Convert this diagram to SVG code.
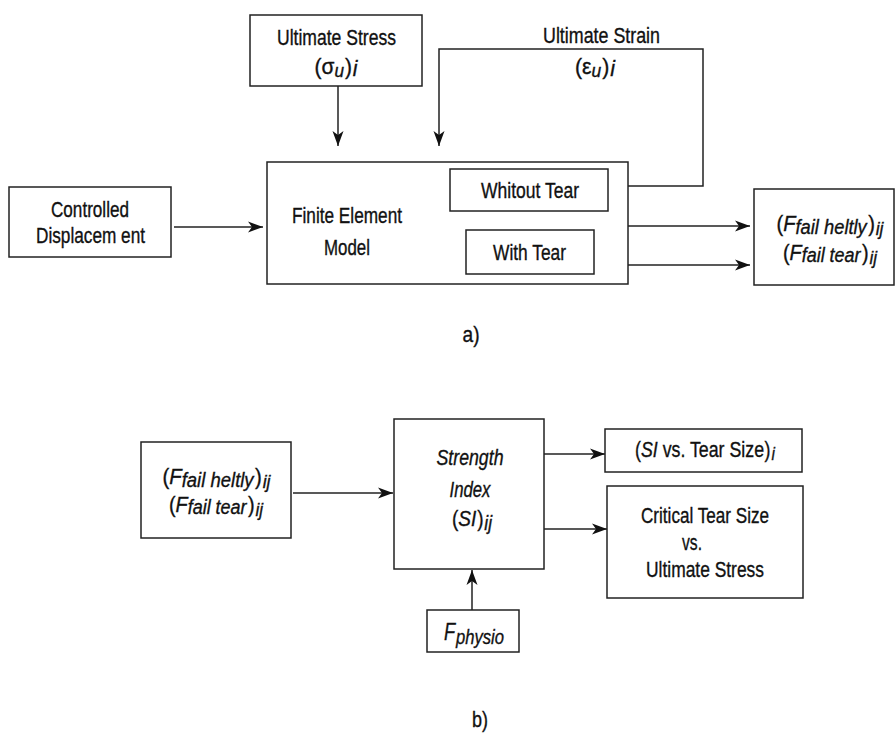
<svg xmlns="http://www.w3.org/2000/svg" width="895" height="733" viewBox="0 0 895 733">
<defs>
<marker id="ah" markerUnits="userSpaceOnUse" markerWidth="16" markerHeight="12" refX="15" refY="6" orient="auto">
<path d="M0,0.5 L15,6 L0,11.5 L4,6 z" fill="#111"/>
</marker>
<style>
.box{fill:#fff;stroke:#222;stroke-width:1.5}
.ln{fill:none;stroke:#222;stroke-width:1.5}
.t{font-family:"Liberation Sans",Arial,sans-serif;font-size:22px;fill:#111;stroke:#111;stroke-width:0.35;text-anchor:middle}
.i{font-style:italic}
</style>
</defs>
<rect width="895" height="733" fill="#fff"/>

<g id="connectors">
<path class="ln" d="M338,86 V146" marker-end="url(#ah)"/>
<path class="ln" d="M613,186 H703 V49 H439 V146" marker-end="url(#ah)"/>
<path class="ln" d="M174,227 H263" marker-end="url(#ah)"/>
<path class="ln" d="M628,226 H750" marker-end="url(#ah)"/>
<path class="ln" d="M628,265 H750" marker-end="url(#ah)"/>
<path class="ln" d="M293,493 H393" marker-end="url(#ah)"/>
<path class="ln" d="M544,454 H605" marker-end="url(#ah)"/>
<path class="ln" d="M544,529 H607" marker-end="url(#ah)"/>
<path class="ln" d="M472,610 V570" marker-end="url(#ah)"/>
</g>

<g id="ultimate-stress">
<rect class="box" x="250" y="15" width="172" height="71"/>
<text class="t" x="336.5" y="45" textLength="119" lengthAdjust="spacingAndGlyphs">Ultimate Stress</text>
<text class="t" x="336" y="74" textLength="43" lengthAdjust="spacingAndGlyphs">(σ<tspan class="i" dy="3" font-size="18">u</tspan><tspan dy="-3" dx="1">)</tspan><tspan class="i" dy="2" dx="1">i</tspan></text>
</g>

<g id="ultimate-strain">
<text class="t" x="601.5" y="43" textLength="117" lengthAdjust="spacingAndGlyphs">Ultimate Strain</text>
<text class="t" x="595" y="74" textLength="40" lengthAdjust="spacingAndGlyphs">(ε<tspan class="i" dy="3" font-size="18">u</tspan><tspan dy="-3" dx="1">)</tspan><tspan class="i" dy="2" dx="1">i</tspan></text>
</g>

<g id="controlled-displacement">
<rect class="box" x="9" y="187" width="162" height="70"/>
<text class="t" x="90" y="217" textLength="78" lengthAdjust="spacingAndGlyphs">Controlled</text>
<text class="t" x="90.5" y="243" textLength="109" lengthAdjust="spacingAndGlyphs">Displacem ent</text>
</g>

<g id="fem">
<rect class="box" x="267" y="162" width="361" height="122"/>
<text class="t" x="347" y="223" textLength="110" lengthAdjust="spacingAndGlyphs" font-size="23">Finite Element</text>
<text class="t" x="347" y="255" textLength="46" lengthAdjust="spacingAndGlyphs" font-size="23">Model</text>
</g>

<g id="without-tear">
<rect class="box" x="450" y="169" width="158" height="42"/>
<text class="t" x="530" y="198" textLength="98" lengthAdjust="spacingAndGlyphs">Whitout Tear</text>
</g>

<g id="with-tear">
<rect class="box" x="466" y="230" width="128" height="44"/>
<text class="t" x="529.5" y="260" textLength="73" lengthAdjust="spacingAndGlyphs">With Tear</text>
</g>

<g id="forces-a">
<rect class="box" x="754" y="189" width="140" height="96"/>
<text class="t" x="830" y="231" textLength="107" lengthAdjust="spacingAndGlyphs">(<tspan class="i">F</tspan><tspan class="i" dy="3" font-size="20">fail heltly</tspan><tspan dy="-3" dx="1.5">)</tspan><tspan class="i" dy="4" dx="1" font-size="19">ij</tspan></text>
<text class="t" x="830" y="260" textLength="94" lengthAdjust="spacingAndGlyphs">(<tspan class="i">F</tspan><tspan class="i" dy="2" font-size="20">fail tear</tspan><tspan dy="-2" dx="1.5">)</tspan><tspan class="i" dy="4" dx="1" font-size="19">ij</tspan></text>
</g>

<text class="t" x="471" y="342" font-size="23" textLength="17" lengthAdjust="spacingAndGlyphs">a)</text>

<g id="forces-b">
<rect class="box" x="141" y="442" width="150" height="96"/>
<text class="t" x="216.5" y="484" textLength="108" lengthAdjust="spacingAndGlyphs">(<tspan class="i">F</tspan><tspan class="i" dy="3" font-size="20">fail heltly</tspan><tspan dy="-3" dx="1.5">)</tspan><tspan class="i" dy="4" dx="1" font-size="19">ij</tspan></text>
<text class="t" x="216" y="512" textLength="94" lengthAdjust="spacingAndGlyphs">(<tspan class="i">F</tspan><tspan class="i" dy="2" font-size="20">fail tear</tspan><tspan dy="-2" dx="1.5">)</tspan><tspan class="i" dy="4" dx="1" font-size="19">ij</tspan></text>
</g>

<g id="strength-index">
<rect class="box" x="394" y="419" width="150" height="150"/>
<text class="t i" x="470" y="465" textLength="67" lengthAdjust="spacingAndGlyphs">Strength</text>
<text class="t i" x="470" y="497" textLength="41" lengthAdjust="spacingAndGlyphs">Index</text>
<text class="t" x="472" y="526" textLength="40" lengthAdjust="spacingAndGlyphs">(<tspan class="i">SI</tspan><tspan dx="1">)</tspan><tspan class="i" dy="4" dx="1" font-size="20">ij</tspan></text>
</g>

<g id="si-vs-tear">
<rect class="box" x="605" y="429" width="197" height="43"/>
<text class="t" x="705" y="457" textLength="140" lengthAdjust="spacingAndGlyphs">(<tspan class="i">SI</tspan> vs. Tear Size<tspan dx="0.5">)</tspan><tspan class="i" dy="3" dx="1.5" font-size="19">i</tspan></text>
</g>

<g id="critical-tear">
<rect class="box" x="607" y="486" width="196" height="112"/>
<text class="t" x="705" y="523" textLength="128" lengthAdjust="spacingAndGlyphs">Critical Tear Size</text>
<text class="t" x="692" y="550" textLength="20" lengthAdjust="spacingAndGlyphs">vs.</text>
<text class="t" x="705" y="577" textLength="118" lengthAdjust="spacingAndGlyphs">Ultimate Stress</text>
</g>

<g id="f-physio">
<rect class="box" x="427" y="610" width="92" height="42"/>
<text class="t" x="474" y="640" textLength="60" lengthAdjust="spacingAndGlyphs"><tspan class="i" font-size="23">F</tspan><tspan class="i" dy="4" dx="1" font-size="21">physio</tspan></text>
</g>

<text class="t" x="480" y="727" font-size="23" textLength="16" lengthAdjust="spacingAndGlyphs">b)</text>
</svg>
